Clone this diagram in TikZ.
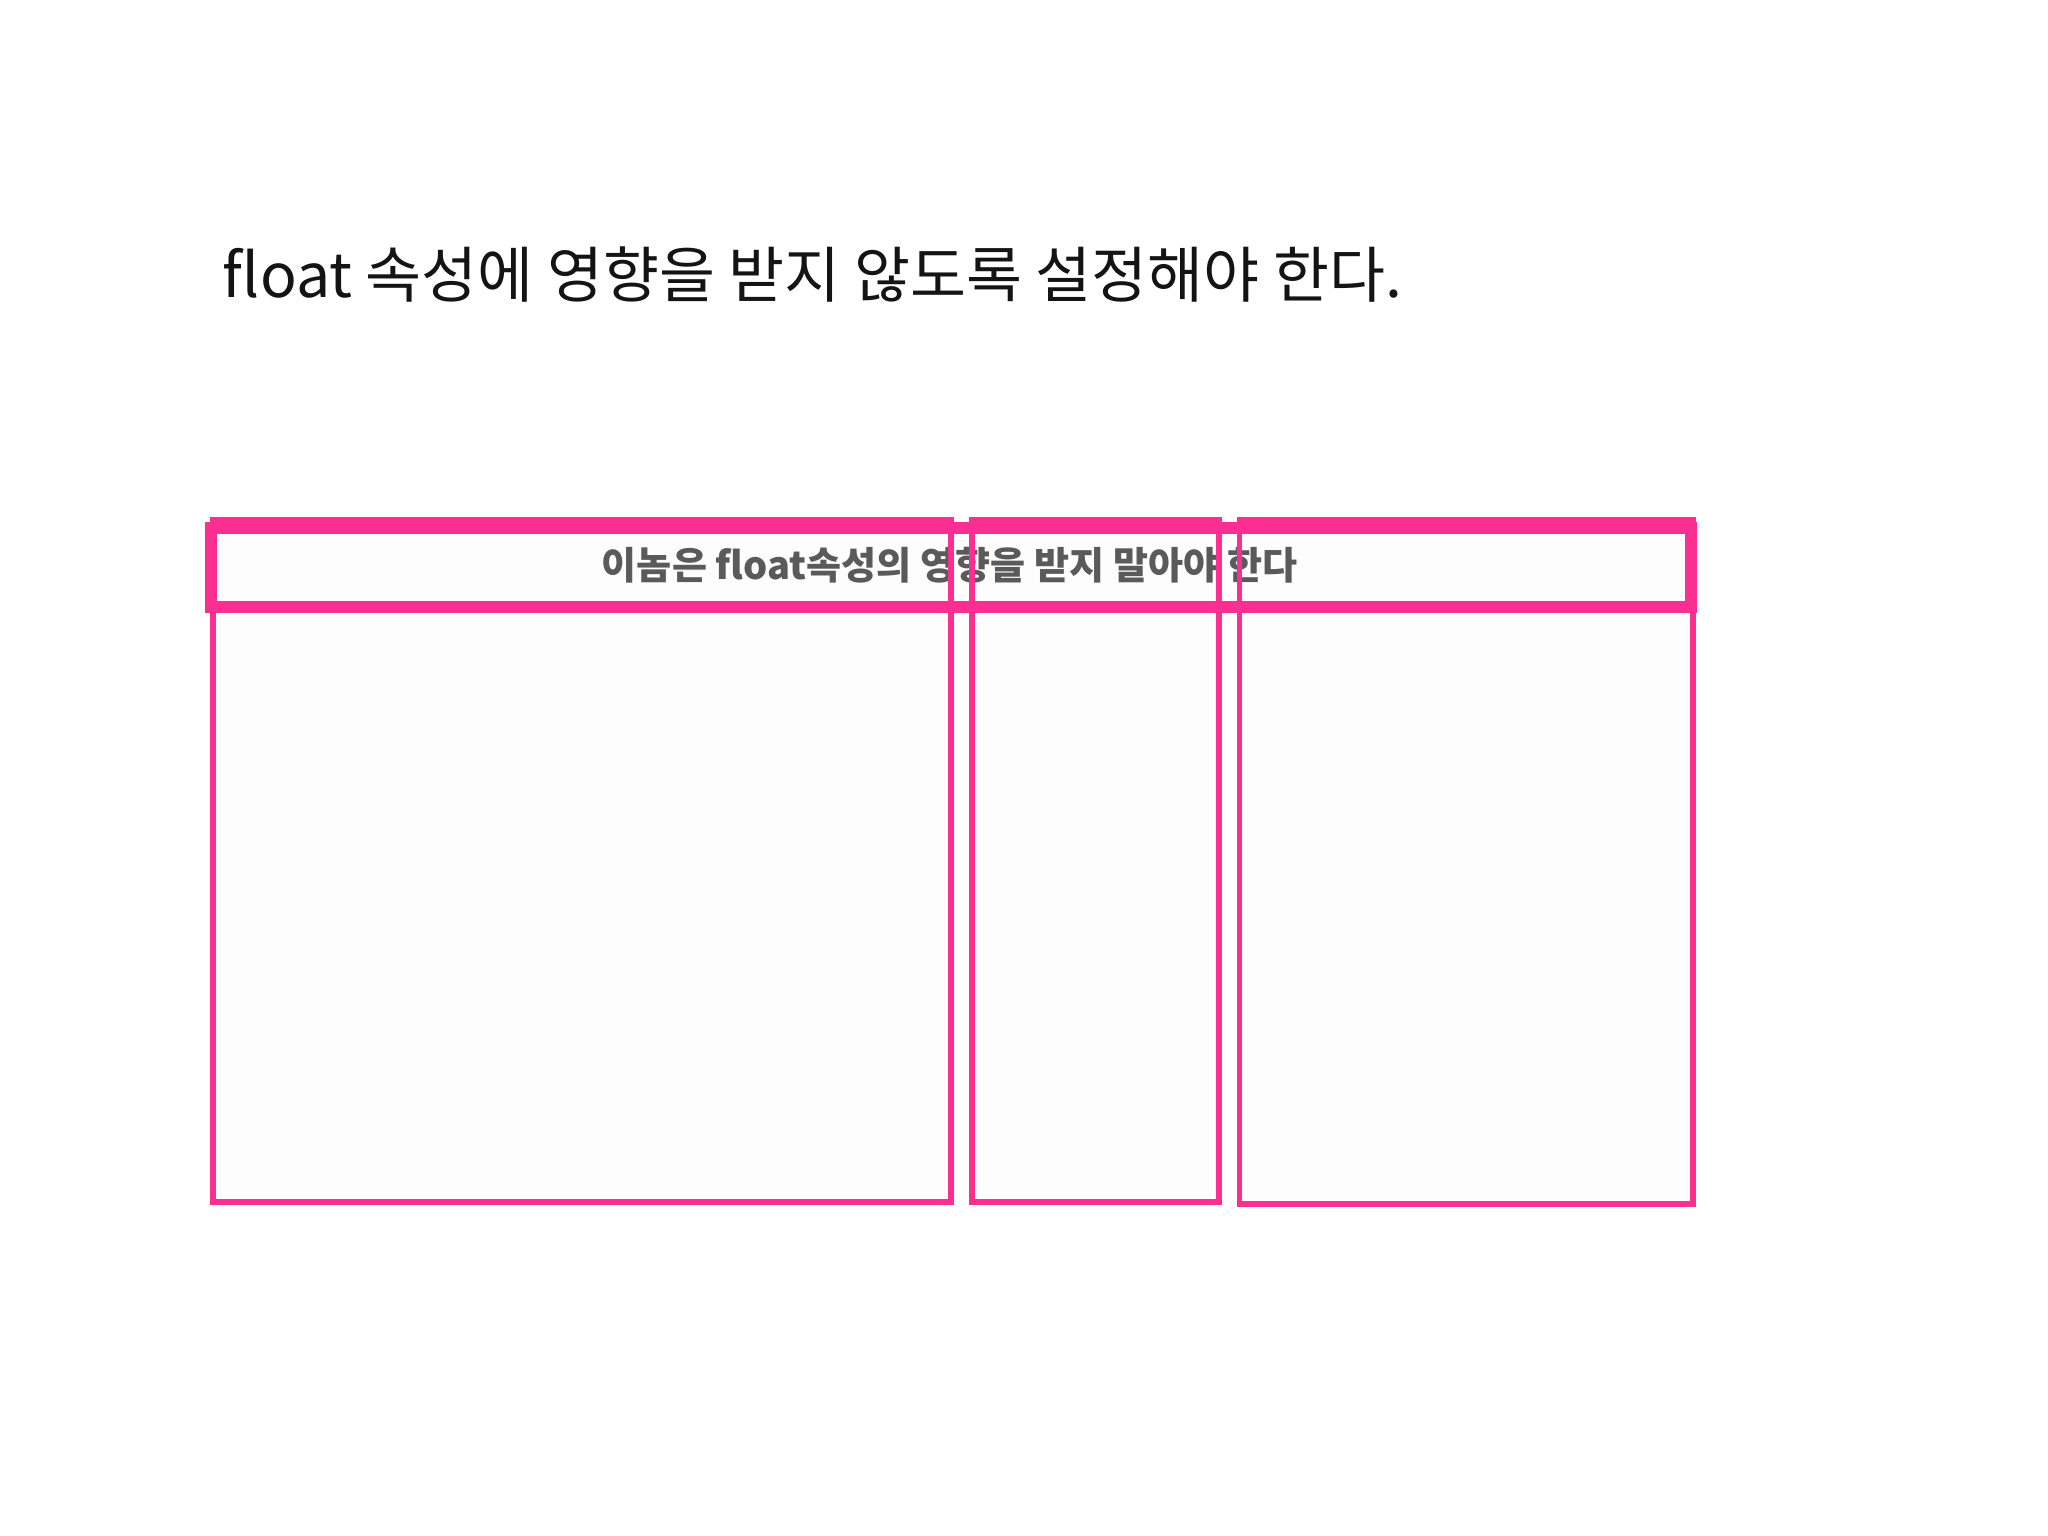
\documentclass[tikz,border=0pt]{standalone}
\usepackage{fontspec}
\newfontfamily\kr{Noto Sans CJK KR}
\definecolor{hot}{HTML}{FB2F92}
\definecolor{txtgray}{HTML}{5A5A5A}
\definecolor{faint}{HTML}{FDFDFD}
\tikzset{
  colbox/.style={draw=hot, line width=0.045cm, fill=faint, inner sep=0pt, outer sep=0pt},
  headbox/.style={draw=hot, line width=0.09cm, inner sep=0pt, outer sep=0pt},
  titletext/.style={font=\kr\fontsize{13.25pt}{16pt}\selectfont, text=black!92, inner sep=0pt},
  headtext/.style={font=\kr\bfseries\fontsize{8.3pt}{10pt}\selectfont, text=txtgray, inner sep=0pt}
}
\begin{document}
\begin{tikzpicture}
\useasboundingbox[fill=white] (0,0) rectangle (15.68,11.76);
\node[titletext, anchor=base west] (title) at (1.70,9.48) {float 속성에 영향을 받지 않도록 설정해야 한다.};
\node[colbox, minimum width=5.65cm, minimum height=5.22cm] (c1) at (4.455,5.17) {};
\node[colbox, minimum width=1.89cm, minimum height=5.22cm] (c2) at (8.385,5.17) {};
\node[colbox, minimum width=3.47cm, minimum height=5.24cm] (c3) at (11.225,5.16) {};
\node[headtext] (htext) at (7.27,7.43) {이놈은 float속성의 영향을 받지 말아야 한다};
\draw[hot, line width=0.045cm] (c1.north west) rectangle (c1.south east);
\draw[hot, line width=0.045cm] (c2.north west) rectangle (c2.south east);
\draw[hot, line width=0.045cm] (c3.north west) rectangle (c3.south east);
\node[headbox, minimum width=11.33cm, minimum height=0.605cm] (head) at (7.28,7.417) {};
\end{tikzpicture}
\end{document}
